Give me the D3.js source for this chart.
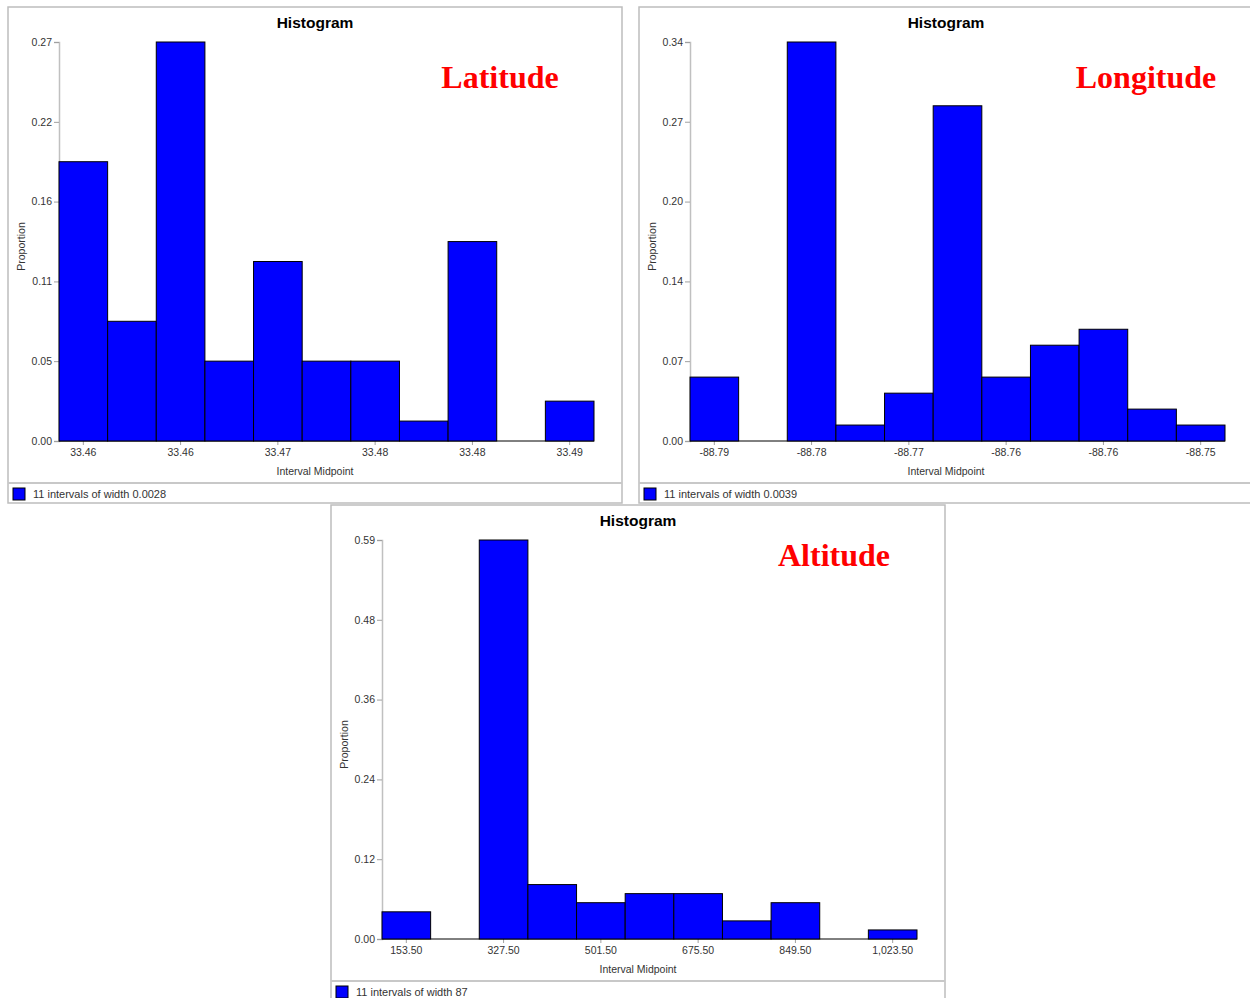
<!DOCTYPE html>
<html lang="en">
<head>
<meta charset="UTF-8">
<title>Histograms</title>
<style>
  body { margin: 0; background: #fff; }
  svg text { font-family: Arial, "Liberation Sans", sans-serif; }
</style>
</head>
<body>
<div id="chart"></div>
<script src="https://cdn.jsdelivr.net/npm/d3@7/dist/d3.min.js"></script>
<script>
// bins of each histogram (11 intervals)
const bins = [0, 1, 2, 3, 4, 5, 6, 7, 8, 9, 10];
const tickBins = [0, 2, 4, 6, 8, 10];

// proportions
const latProportion = [0.1892, 0.0811, 0.2703, 0.0541, 0.1216, 0.0541, 0.0541, 0.0135, 0.1351, 0, 0.0270];
const lonProportion = [0.0541, 0, 0.3378, 0.0135, 0.0405, 0.2838, 0.0541, 0.0811, 0.0946, 0.0270, 0.0135];
const altProportion = [0.0405, 0, 0.5946, 0.0811, 0.0541, 0.0676, 0.0676, 0.0270, 0.0541, 0, 0.0135];

// x tick labels (interval midpoints)
const latXLabels = ['33.46', '33.46', '33.47', '33.48', '33.48', '33.49'];
const lonXLabels = ['-88.79', '-88.78', '-88.77', '-88.76', '-88.76', '-88.75'];
const altXLabels = ['153.50', '327.50', '501.50', '675.50', '849.50', '1,023.50'];

// y ticks
const latYTicks = [0, 0.0541, 0.1081, 0.1622, 0.2162, 0.2703];
const latYLabels = ['0.00', '0.05', '0.11', '0.16', '0.22', '0.27'];
const lonYTicks = [0, 0.0676, 0.1351, 0.2027, 0.2703, 0.3378];
const lonYLabels = ['0.00', '0.07', '0.14', '0.20', '0.27', '0.34'];
const altYTicks = [0, 0.1189, 0.2378, 0.3568, 0.4757, 0.5946];
const altYLabels = ['0.00', '0.12', '0.24', '0.36', '0.48', '0.59'];

const svg = d3.select('#chart')
  .append('svg')
  .attr('width', 1250)
  .attr('height', 998);

const panels = [
  { name: 'Latitude', x: 8, y: 7, nameX: 492, nameY: 81, values: latProportion, xLabels: latXLabels,
    yTicks: latYTicks, yLabels: latYLabels, legend: '11 intervals of width 0.0028' },
  { name: 'Longitude', x: 639, y: 7, nameX: 507, nameY: 81, values: lonProportion, xLabels: lonXLabels,
    yTicks: lonYTicks, yLabels: lonYLabels, legend: '11 intervals of width 0.0039' },
  { name: 'Altitude', x: 331, y: 505, nameX: 503, nameY: 61, values: altProportion, xLabels: altXLabels,
    yTicks: altYTicks, yLabels: altYLabels, legend: '11 intervals of width 87' }
];

const W = 614, H = 496;
const plot = { left: 51, right: 586, top: 35, bottom: 434 };

panels.forEach(p => {
  const g = svg.append('g').attr('transform', `translate(${p.x},${p.y})`);

  // frame
  g.append('rect')
    .attr('x', 0).attr('y', 0)
    .attr('width', W).attr('height', H)
    .attr('fill', '#fff')
    .attr('stroke', '#bdbdbd')
    .attr('stroke-width', 1.5);

  // legend separator
  g.append('line')
    .attr('x1', 0).attr('x2', W)
    .attr('y1', 476).attr('y2', 476)
    .attr('stroke', '#c8c8c8')
    .attr('stroke-width', 2);

  const x = d3.scaleBand()
    .domain(bins)
    .range([plot.left, plot.right])
    .paddingInner(0)
    .paddingOuter(0);

  const y = d3.scaleLinear()
    .domain([0, d3.max(p.yTicks)])
    .range([plot.bottom, plot.top]);

  // y axis
  const yAxis = d3.axisLeft(y)
    .tickValues(p.yTicks)
    .tickFormat((d, i) => p.yLabels[i])
    .tickSize(5)
    .tickPadding(2);
  const ya = g.append('g')
    .attr('transform', `translate(${plot.left},0)`)
    .call(yAxis);
  ya.select('.domain').attr('stroke', '#c0c0c0').attr('stroke-width', 1.5);
  ya.selectAll('.tick line').attr('stroke', '#a0a0a0');
  ya.selectAll('.tick text').attr('fill', '#333').style('font-size', '10.5px');

  // x axis
  const xAxis = d3.axisBottom(x)
    .tickValues(tickBins)
    .tickFormat((d, i) => p.xLabels[i])
    .tickSize(4)
    .tickPadding(4);
  const xa = g.append('g')
    .attr('transform', `translate(0,${plot.bottom})`)
    .call(xAxis);
  xa.select('.domain').remove();
  xa.selectAll('.tick line').attr('stroke', '#a0a0a0');
  xa.selectAll('.tick text').attr('fill', '#333').style('font-size', '10.5px');

  // bars
  g.append('line')
    .attr('x1', plot.left).attr('x2', plot.right)
    .attr('y1', plot.bottom).attr('y2', plot.bottom)
    .attr('stroke', '#000').attr('stroke-width', 1);

  g.selectAll('.bar')
    .data(p.values)
    .enter().append('rect')
    .attr('class', 'bar')
    .attr('x', (d, i) => x(bins[i]))
    .attr('y', d => y(d))
    .attr('width', x.bandwidth())
    .attr('height', d => plot.bottom - y(d))
    .attr('fill', '#0000ff')
    .attr('stroke', '#000')
    .attr('stroke-width', 1);

  // titles
  g.append('text')
    .attr('x', W / 2).attr('y', 21)
    .attr('text-anchor', 'middle')
    .style('font-size', '15.5px')
    .style('font-weight', 'bold')
    .text('Histogram');

  g.append('text')
    .attr('x', W / 2).attr('y', 468)
    .attr('text-anchor', 'middle')
    .attr('fill', '#333')
    .style('font-size', '10.5px')
    .text('Interval Midpoint');

  g.append('text')
    .attr('transform', `translate(17,${(plot.top + plot.bottom) / 2 + 5}) rotate(-90)`)
    .attr('text-anchor', 'middle')
    .attr('fill', '#333')
    .style('font-size', '10.5px')
    .text('Proportion');

  g.append('text')
    .attr('x', p.nameX).attr('y', p.nameY)
    .attr('text-anchor', 'middle')
    .attr('fill', '#ff0000')
    .style('font-family', '"Times New Roman", "Liberation Serif", serif')
    .style('font-size', '32px')
    .style('font-weight', 'bold')
    .text(p.name);

  // legend
  g.append('rect')
    .attr('x', 5).attr('y', 481)
    .attr('width', 12).attr('height', 12)
    .attr('fill', '#0000ff')
    .attr('stroke', '#000')
    .attr('stroke-width', 1);

  g.append('text')
    .attr('x', 25).attr('y', 491)
    .attr('fill', '#333')
    .style('font-size', '11px')
    .text(p.legend);
});
</script>
</body>
</html>
